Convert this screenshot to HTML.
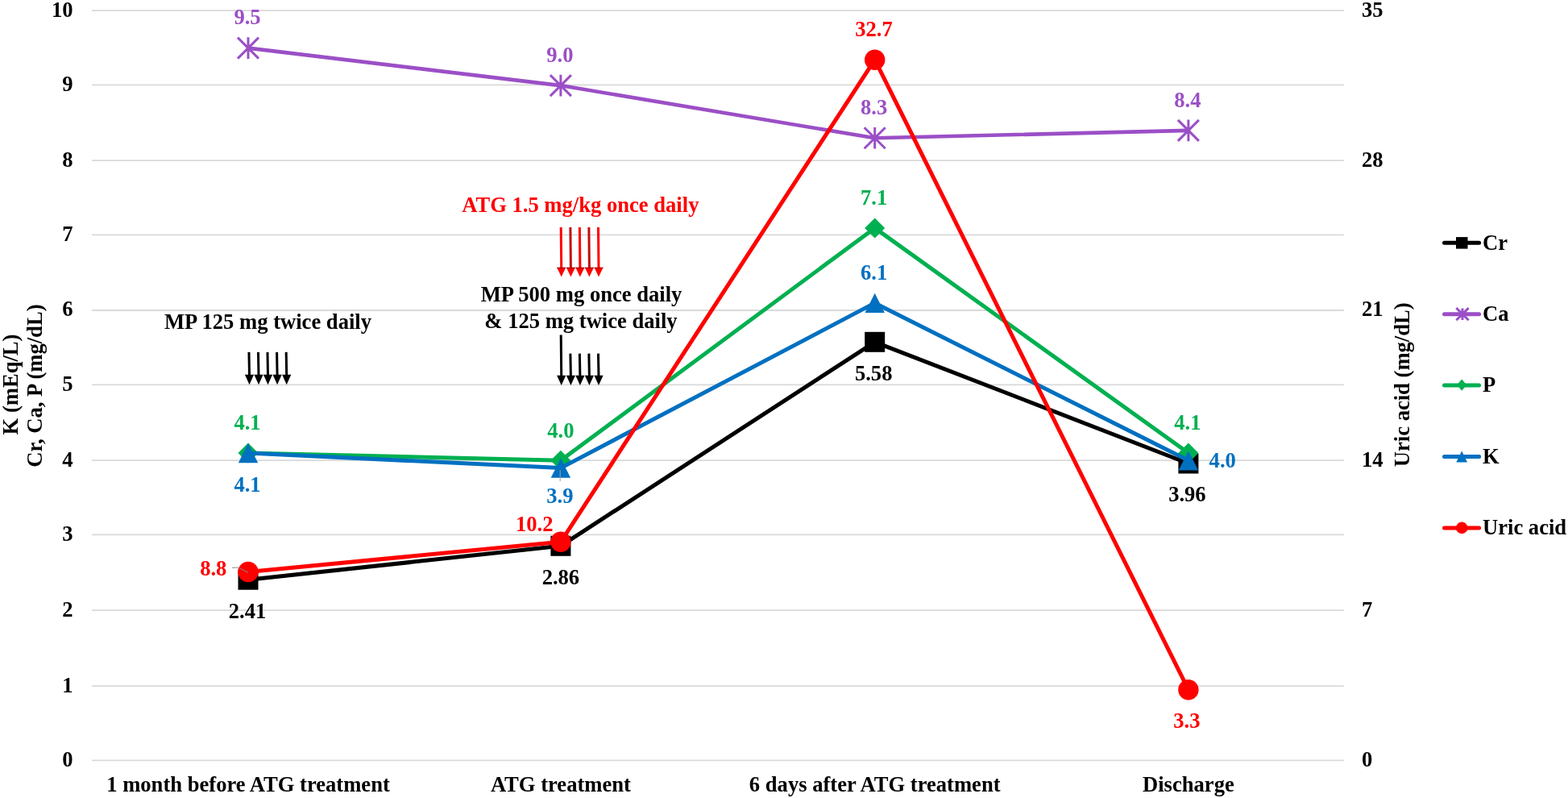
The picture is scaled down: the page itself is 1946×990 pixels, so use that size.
<!DOCTYPE html><html><head><meta charset="utf-8"><style>html,body{margin:0;padding:0;background:#fff;}svg{display:block}text{font-family:"Liberation Serif",serif;font-weight:bold;}</style></head><body>
<svg width="1946" height="990" viewBox="0 0 1946 990">
<rect width="1946" height="990" fill="#fff"/>
<line x1="113.9" y1="13.10" x2="1667.8" y2="13.10" stroke="#D9D9D9" stroke-width="1.8"/>
<line x1="113.9" y1="105.30" x2="1667.8" y2="105.30" stroke="#D9D9D9" stroke-width="1.8"/>
<line x1="113.9" y1="199.10" x2="1667.8" y2="199.10" stroke="#D9D9D9" stroke-width="1.8"/>
<line x1="113.9" y1="291.40" x2="1667.8" y2="291.40" stroke="#D9D9D9" stroke-width="1.8"/>
<line x1="113.9" y1="385.00" x2="1667.8" y2="385.00" stroke="#D9D9D9" stroke-width="1.8"/>
<line x1="113.9" y1="477.40" x2="1667.8" y2="477.40" stroke="#D9D9D9" stroke-width="1.8"/>
<line x1="113.9" y1="571.10" x2="1667.8" y2="571.10" stroke="#D9D9D9" stroke-width="1.8"/>
<line x1="113.9" y1="663.40" x2="1667.8" y2="663.40" stroke="#D9D9D9" stroke-width="1.8"/>
<line x1="113.9" y1="757.20" x2="1667.8" y2="757.20" stroke="#D9D9D9" stroke-width="1.8"/>
<line x1="113.9" y1="851.10" x2="1667.8" y2="851.10" stroke="#D9D9D9" stroke-width="1.8"/>
<line x1="113.9" y1="943.40" x2="1667.8" y2="943.40" stroke="#D9D9D9" stroke-width="1.8"/>
<text x="90.5" y="20.5" font-size="26.6" text-anchor="end">10</text>
<text x="90.5" y="112.7" font-size="26.6" text-anchor="end">9</text>
<text x="90.5" y="206.5" font-size="26.6" text-anchor="end">8</text>
<text x="90.5" y="298.8" font-size="26.6" text-anchor="end">7</text>
<text x="90.5" y="392.4" font-size="26.6" text-anchor="end">6</text>
<text x="90.5" y="484.8" font-size="26.6" text-anchor="end">5</text>
<text x="90.5" y="578.5" font-size="26.6" text-anchor="end">4</text>
<text x="90.5" y="670.8" font-size="26.6" text-anchor="end">3</text>
<text x="90.5" y="764.6" font-size="26.6" text-anchor="end">2</text>
<text x="90.5" y="858.5" font-size="26.6" text-anchor="end">1</text>
<text x="90.5" y="950.8" font-size="26.6" text-anchor="end">0</text>
<text x="1690" y="950.8" font-size="26.6">0</text>
<text x="1690" y="764.6" font-size="26.6">7</text>
<text x="1690" y="578.5" font-size="26.6">14</text>
<text x="1690" y="392.4" font-size="26.6">21</text>
<text x="1690" y="206.5" font-size="26.6">28</text>
<text x="1690" y="20.5" font-size="26.6">35</text>
<text x="308.0" y="982" font-size="26.6" text-anchor="middle">1 month before ATG treatment</text>
<text x="695.9" y="982" font-size="26.6" text-anchor="middle">ATG treatment</text>
<text x="1085.7" y="982" font-size="26.6" text-anchor="middle">6 days after ATG treatment</text>
<text x="1474.9" y="982" font-size="26.6" text-anchor="middle">Discharge</text>
<text transform="translate(22.2,477) rotate(-90)" font-size="26.6" text-anchor="middle">K (mEq/L)</text>
<text transform="translate(51.7,478.6) rotate(-90)" font-size="26.6" text-anchor="middle">Cr, Ca, P (mg/dL)</text>
<text transform="translate(1748.5,477.3) rotate(-90)" font-size="26.6" text-anchor="middle">Uric acid (mg/dL)</text>
<polyline points="308.0,719.2 695.9,677.3 1085.7,424.3 1474.9,575.0" fill="none" stroke="#000000" stroke-width="5.0" stroke-linejoin="round" stroke-linecap="round"/>
<rect x="295.5" y="706.7" width="25" height="25" fill="#000000"/>
<rect x="683.4" y="664.8" width="25" height="25" fill="#000000"/>
<rect x="1073.2" y="411.8" width="25" height="25" fill="#000000"/>
<rect x="1462.4" y="562.5" width="25" height="25" fill="#000000"/>
<polyline points="308.0,59.6 695.9,106.1 1085.7,171.3 1474.9,161.9" fill="none" stroke="#9B4FC6" stroke-width="4.6" stroke-linejoin="round" stroke-linecap="round"/>
<path d="M295.0,46.6L321.0,72.6M321.0,46.6L295.0,72.6M308.0,46.3L308.0,72.9" stroke="#9B4FC6" stroke-width="3" fill="none"/>
<path d="M682.9,93.1L708.9,119.1M708.9,93.1L682.9,119.1M695.9,92.8L695.9,119.4" stroke="#9B4FC6" stroke-width="3" fill="none"/>
<path d="M1072.7,158.3L1098.7,184.3M1098.7,158.3L1072.7,184.3M1085.7,158.0L1085.7,184.6" stroke="#9B4FC6" stroke-width="3" fill="none"/>
<path d="M1461.9,148.9L1487.9,174.9M1487.9,148.9L1461.9,174.9M1474.9,148.6L1474.9,175.2" stroke="#9B4FC6" stroke-width="3" fill="none"/>
<polyline points="308.0,562.0 695.9,571.3 1085.7,282.9 1474.9,562.0" fill="none" stroke="#00B050" stroke-width="5.0" stroke-linejoin="round" stroke-linecap="round"/>
<polygon points="308.0,549.5 320.5,562.0 308.0,574.5 295.5,562.0" fill="#00B050"/>
<polygon points="695.9,558.8 708.4,571.3 695.9,583.8 683.4,571.3" fill="#00B050"/>
<polygon points="1085.7,270.4 1098.2,282.9 1085.7,295.4 1073.2,282.9" fill="#00B050"/>
<polygon points="1474.9,549.5 1487.4,562.0 1474.9,574.5 1462.4,562.0" fill="#00B050"/>
<polyline points="308.0,562.0 695.9,580.6 1085.7,375.9 1474.9,571.3" fill="none" stroke="#0070C0" stroke-width="5.0" stroke-linejoin="round" stroke-linecap="round"/>
<polygon points="308.0,549.8 320.2,574.2 295.8,574.2" fill="#0070C0"/>
<polygon points="695.9,568.4 708.1,592.8 683.7,592.8" fill="#0070C0"/>
<polygon points="1085.7,363.7 1097.9,388.1 1073.5,388.1" fill="#0070C0"/>
<polygon points="1474.9,559.1 1487.1,583.5 1462.7,583.5" fill="#0070C0"/>
<polyline points="308.0,709.5 695.9,672.3 1085.7,74.2 1474.9,855.7" fill="none" stroke="#FF0000" stroke-width="5.0" stroke-linejoin="round" stroke-linecap="round"/>
<circle cx="308.0" cy="709.5" r="12.7" fill="#FF0000"/>
<circle cx="695.9" cy="672.3" r="12.7" fill="#FF0000"/>
<circle cx="1085.7" cy="74.2" r="12.7" fill="#FF0000"/>
<circle cx="1474.9" cy="855.7" r="12.7" fill="#FF0000"/>
<text x="307.0" y="30.3" font-size="26.6" fill="#9B4FC6" text-anchor="middle">9.5</text>
<text x="694.9" y="76.8" font-size="26.6" fill="#9B4FC6" text-anchor="middle">9.0</text>
<text x="1084.7" y="142.0" font-size="26.6" fill="#9B4FC6" text-anchor="middle">8.3</text>
<text x="1473.9" y="132.6" font-size="26.6" fill="#9B4FC6" text-anchor="middle">8.4</text>
<text x="307.0" y="532.7" font-size="26.6" fill="#00B050" text-anchor="middle">4.1</text>
<text x="695.9" y="542.7" font-size="26.6" fill="#00B050" text-anchor="middle">4.0</text>
<text x="1084.7" y="253.6" font-size="26.6" fill="#00B050" text-anchor="middle">7.1</text>
<text x="1473.9" y="532.7" font-size="26.6" fill="#00B050" text-anchor="middle">4.1</text>
<text x="307.0" y="609.7" font-size="26.6" fill="#0070C0" text-anchor="middle">4.1</text>
<text x="694.9" y="623.6" font-size="26.6" fill="#0070C0" text-anchor="middle">3.9</text>
<text x="1084.7" y="346.6" font-size="26.6" fill="#0070C0" text-anchor="middle">6.1</text>
<text x="1500.6" y="580.0" font-size="26.6" fill="#0070C0" text-anchor="start">4.0</text>
<text x="307.0" y="766.5" font-size="26.6" fill="#000000" text-anchor="middle">2.41</text>
<text x="695.9" y="724.6" font-size="26.6" fill="#000000" text-anchor="middle">2.86</text>
<text x="1084.2" y="471.6" font-size="26.6" fill="#000000" text-anchor="middle">5.58</text>
<text x="1473.4" y="622.3" font-size="26.6" fill="#000000" text-anchor="middle">3.96</text>
<text x="281.4" y="713.8" font-size="26.6" fill="#FF0000" text-anchor="end">8.8</text>
<text x="663.3" y="659.1" font-size="26.6" fill="#FF0000" text-anchor="middle">10.2</text>
<text x="1084.5" y="44.9" font-size="26.6" fill="#FF0000" text-anchor="middle">32.7</text>
<text x="1472.9" y="903.0" font-size="26.6" fill="#FF0000" text-anchor="middle">3.3</text>
<line x1="695.2" y1="583" x2="695.2" y2="597" stroke="#A0A0A0" stroke-width="1"/>
<polyline points="288,704.2 296,704.2 308,710.3" fill="none" stroke="#888" stroke-width="1"/>
<text x="332.5" y="407.8" font-size="26.6" text-anchor="middle">MP 125 mg twice daily</text>
<text x="720.3" y="262.5" font-size="26.6" text-anchor="middle" fill="#FF0000">ATG 1.5 mg/kg once daily</text>
<text x="721.6" y="374.3" font-size="26.6" text-anchor="middle">MP 500 mg once daily</text>
<text x="721" y="406.6" font-size="26.6" text-anchor="middle">&amp; 125 mg twice daily</text>
<line x1="309.0" y1="438.4" x2="309.5" y2="465.7" stroke="#000000" stroke-width="3" stroke-linecap="square"/>
<polygon points="303.9,464.7 315.1,464.7 309.5,477.2" fill="#000000"/>
<line x1="320.5" y1="438.4" x2="321.0" y2="465.7" stroke="#000000" stroke-width="3" stroke-linecap="square"/>
<polygon points="315.4,464.7 326.6,464.7 321.0,477.2" fill="#000000"/>
<line x1="332.0" y1="438.4" x2="332.5" y2="465.7" stroke="#000000" stroke-width="3" stroke-linecap="square"/>
<polygon points="326.9,464.7 338.1,464.7 332.5,477.2" fill="#000000"/>
<line x1="343.6" y1="438.4" x2="344.1" y2="465.7" stroke="#000000" stroke-width="3" stroke-linecap="square"/>
<polygon points="338.5,464.7 349.7,464.7 344.1,477.2" fill="#000000"/>
<line x1="355.2" y1="438.4" x2="355.7" y2="465.7" stroke="#000000" stroke-width="3" stroke-linecap="square"/>
<polygon points="350.1,464.7 361.3,464.7 355.7,477.2" fill="#000000"/>
<line x1="696.2" y1="283.5" x2="696.7" y2="332.8" stroke="#FF0000" stroke-width="3" stroke-linecap="square"/>
<polygon points="691.1,331.8 702.3,331.8 696.7,343.4" fill="#FF0000"/>
<line x1="691.1" y1="332.3" x2="702.3" y2="332.3" stroke="#600000" stroke-width="1" opacity="0.6"/>
<line x1="707.9" y1="283.5" x2="708.4" y2="332.8" stroke="#C01010" stroke-width="3" stroke-linecap="square"/>
<polygon points="702.8,331.8 714.0,331.8 708.4,343.4" fill="#FF0000"/>
<line x1="702.8" y1="332.3" x2="714.0" y2="332.3" stroke="#600000" stroke-width="1" opacity="0.6"/>
<line x1="719.4" y1="283.5" x2="719.9" y2="332.8" stroke="#FF0000" stroke-width="3" stroke-linecap="square"/>
<polygon points="714.3,331.8 725.5,331.8 719.9,343.4" fill="#FF0000"/>
<line x1="714.3" y1="332.3" x2="725.5" y2="332.3" stroke="#600000" stroke-width="1" opacity="0.6"/>
<line x1="730.9" y1="283.5" x2="731.4" y2="332.8" stroke="#C01010" stroke-width="3" stroke-linecap="square"/>
<polygon points="725.8,331.8 737.0,331.8 731.4,343.4" fill="#FF0000"/>
<line x1="725.8" y1="332.3" x2="737.0" y2="332.3" stroke="#600000" stroke-width="1" opacity="0.6"/>
<line x1="742.5" y1="283.5" x2="743.0" y2="332.8" stroke="#FF0000" stroke-width="3" stroke-linecap="square"/>
<polygon points="737.4,331.8 748.6,331.8 743.0,343.4" fill="#FF0000"/>
<line x1="737.4" y1="332.3" x2="748.6" y2="332.3" stroke="#600000" stroke-width="1" opacity="0.6"/>
<line x1="696.2" y1="417.1" x2="696.7" y2="466.8" stroke="#000000" stroke-width="3" stroke-linecap="square"/>
<polygon points="691.1,465.8 702.3,465.8 696.7,478.0" fill="#000000"/>
<line x1="707.9" y1="440.1" x2="708.4" y2="466.8" stroke="#000000" stroke-width="3" stroke-linecap="square"/>
<polygon points="702.8,465.8 714.0,465.8 708.4,478.0" fill="#000000"/>
<line x1="719.4" y1="440.1" x2="719.9" y2="466.8" stroke="#000000" stroke-width="3" stroke-linecap="square"/>
<polygon points="714.3,465.8 725.5,465.8 719.9,478.0" fill="#000000"/>
<line x1="730.9" y1="440.1" x2="731.4" y2="466.8" stroke="#000000" stroke-width="3" stroke-linecap="square"/>
<polygon points="725.8,465.8 737.0,465.8 731.4,478.0" fill="#000000"/>
<line x1="742.5" y1="440.1" x2="743.0" y2="466.8" stroke="#000000" stroke-width="3" stroke-linecap="square"/>
<polygon points="737.4,465.8 748.6,465.8 743.0,478.0" fill="#000000"/>
<line x1="1792.5" y1="301.3" x2="1835.6" y2="301.3" stroke="#000000" stroke-width="5.0" stroke-linecap="round"/>
<rect x="1807.0" y="294.1" width="14.5" height="14.5" fill="#000000"/>
<text x="1840" y="309.5" font-size="26.6">Cr</text>
<line x1="1792.5" y1="389.7" x2="1835.6" y2="389.7" stroke="#9B4FC6" stroke-width="5.0" stroke-linecap="round"/>
<path d="M1807.4,382.1L1822.6,397.3M1822.6,382.1L1807.4,397.3M1815.0,382.4L1815.0,397.0" stroke="#9B4FC6" stroke-width="3" fill="none"/>
<text x="1840" y="397.9" font-size="26.6">Ca</text>
<line x1="1792.5" y1="478.1" x2="1835.6" y2="478.1" stroke="#00B050" stroke-width="5.0" stroke-linecap="round"/>
<polygon points="1814.2,470.4 1820.2,477.6 1814.2,484.8 1808.2,477.6" fill="#00B050"/>
<text x="1840" y="486.3" font-size="26.6">P</text>
<line x1="1792.5" y1="566.5" x2="1835.6" y2="566.5" stroke="#0070C0" stroke-width="5.0" stroke-linecap="round"/>
<polygon points="1814.2,559.4 1821.1,573.6 1807.3,573.6" fill="#0070C0"/>
<text x="1840" y="574.7" font-size="26.6">K</text>
<line x1="1792.5" y1="654.9" x2="1835.6" y2="654.9" stroke="#FF0000" stroke-width="5.0" stroke-linecap="round"/>
<circle cx="1814.2" cy="654.9" r="7.3" fill="#FF0000"/>
<text x="1840" y="663.1" font-size="26.6">Uric acid</text>
</svg></body></html>
